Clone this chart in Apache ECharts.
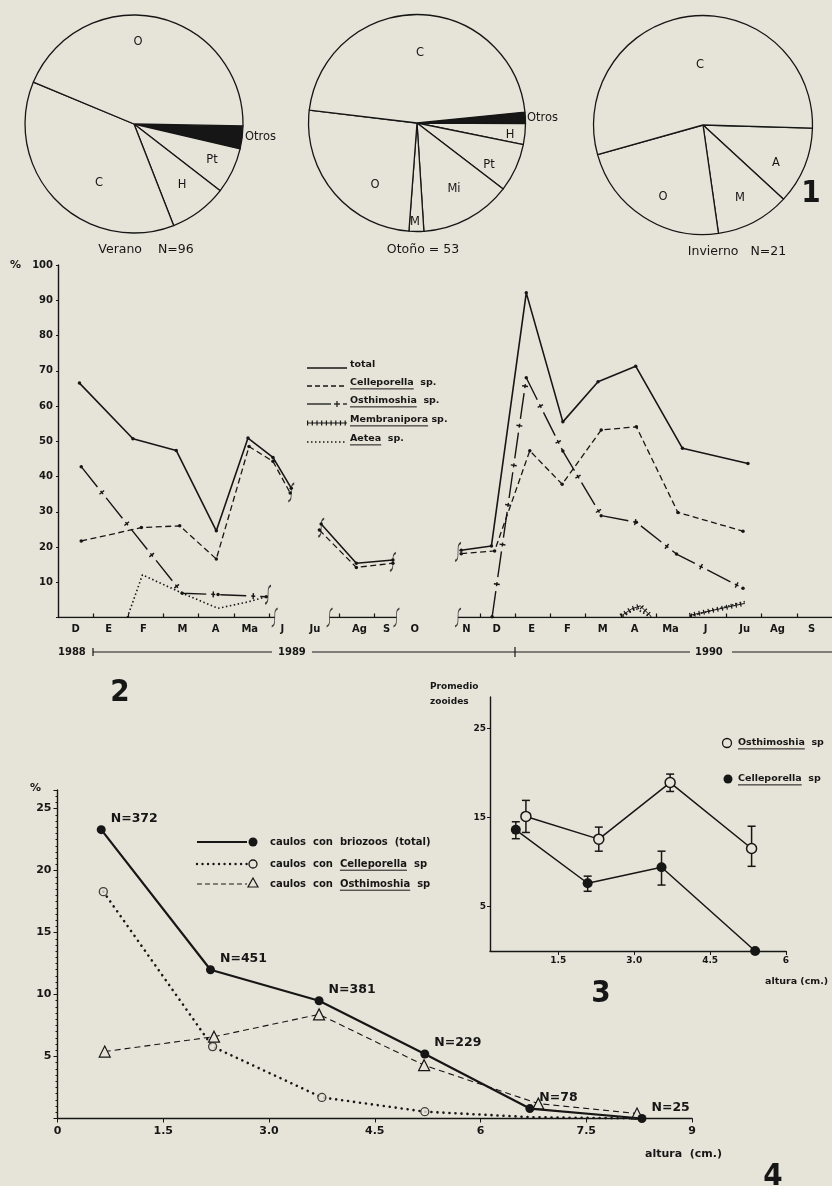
<!DOCTYPE html>
<html>
<head>
<meta charset="utf-8">
<script src="https://cdn.jsdelivr.net/npm/echarts@6.0.0/dist/echarts.min.js"></script>
<style>
	html, body { margin: 0; padding: 0; background: #e6e4d8; }
	#chart { width: 832px; height: 1186px; }
</style>
</head>
<body>
<div id="chart"></div>
<script>
// figura 1: tortas por estacion
const veranoNames = ['Otros', 'Pt', 'H', 'C', 'O'];
const veranoValues = [3.4, 6.8, 8.6, 37.2, 44.0];
const otonoNames = ['Otros', 'H', 'Pt', 'Mi', 'M', 'O', 'C'];
const otonoValues = [1.7, 3.1, 7.2, 13.6, 2.2, 25.7, 46.5];
const inviernoNames = ['A', 'M', 'O', 'C'];
const inviernoValues = [11.4, 10.9, 22.9, 54.8];

// figura 2: % por mes (indice de mes desde dic 1988)
const months = ['D', 'E', 'F', 'M', 'A', 'Ma', 'J', 'Ju', 'Ag', 'S', 'O', 'N', 'D', 'E', 'F', 'M', 'A', 'Ma', 'J', 'Ju', 'Ag', 'S'];
const monthPos = [0, 0.94, 1.93, 3.04, 3.98, 4.95, 5.88, 6.8, 8.07, 8.84, 9.64, 11.11, 11.97, 12.96, 13.98, 14.98, 15.89, 16.91, 17.91, 19.02, 19.95, 20.92];
const monthTicks = [0.5, 1.5, 2.5, 3.5, 4.5, 5.5, 7.5, 8.5, 11.5, 12.5, 13.5, 14.5, 15.5, 16.5, 17.5, 18.5, 19.5, 20.5];
const pctTicks = [0, 10, 20, 30, 40, 50, 60, 70, 80, 90, 100];

const totalX = [[0.11, 1.63, 2.86, 4.0, 4.9, 5.61, 6.13], [6.98, 7.98, 9.02], [10.96, 11.82, 12.81, 13.85, 14.85, 15.92, 17.25, 19.11]];
const totalY = [[66.5, 50.7, 47.4, 24.6, 50.9, 45.4, 36.7], [26.5, 15.4, 16.3], [19.1, 20.3, 92.1, 55.5, 66.9, 71.3, 48, 43.7]];
const cellX = [[0.16, 1.87, 2.96, 4.0, 4.93, 5.61, 6.1], [6.93, 7.98, 9.02], [10.96, 11.91, 12.91, 13.83, 14.94, 15.94, 17.12, 18.97]];
const cellY = [[21.7, 25.5, 26, 16.6, 48.5, 44.3, 35.3], [24.8, 14.2, 15.4], [18.1, 18.9, 47.3, 37.8, 53.2, 54.1, 29.8, 24.5]];
const osthX = [[0.16, 3.03, 4.05, 5.42], [11.84, 12.81, 13.85, 14.94, 15.94, 17.08, 18.97]];
const osthY = [[42.8, 6.9, 6.5, 5.9], [0.2, 68, 47.2, 28.9, 27, 18, 8.3]];
const membX = [[15.5, 15.8, 16.05, 16.36], [17.45, 19.02]];
const membY = [[0.4, 2.4, 3.3, 0.3], [0.6, 4.0]];
const aeteaX = [[1.47, 1.9, 3.03, 4.05, 4.93, 5.42], [15.55, 15.92, 16.36], [17.45, 19.02]];
const aeteaY = [[0, 12.1, 6.9, 2.6, 4.5, 5.9], [0.3, 2.6, 0], [0.3, 4.5]];
const axisSegX = [[-0.5, 5.66], [7.22, 9.12], [10.87, 21.5]];
const breakX = [6.13, 5.47, 5.66, 6.98, 9.02, 7.22, 9.12, 10.87, 10.87];
const breakY = [35.5, 6.5, 0, 25.5, 15.8, 0, 0, 18.6, 0];

// figura 3: promedio de zooides por altura
const osth3X = [0.86, 2.30, 3.71, 5.32];
const osth3Y = [15.1, 12.55, 18.9, 11.5];
const osth3Lo = [13.3, 11.2, 17.9, 9.5];
const osth3Hi = [16.9, 13.9, 19.85, 14.0];
const cell3X = [0.66, 2.08, 3.54, 5.39];
const cell3Y = [13.6, 7.6, 9.4, 0];
const cell3Lo = [12.6, 6.7, 7.4, null];
const cell3Hi = [14.5, 8.4, 11.2, null];
const altTicks3 = [1.5, 3, 4.5, 6];
const zooTicks3 = [5, 15, 25];

// figura 4: % de caulos por altura
const total4X = [0.62, 2.17, 3.71, 5.21, 6.70, 8.29];
const total4Y = [23.3, 12.0, 9.5, 5.2, 0.8, 0];
const nLabels = ['N=372', 'N=451', 'N=381', 'N=229', 'N=78', 'N=25'];
const cell4X = [0.65, 2.20, 3.75, 5.21, 6.74, 8.29];
const cell4Y = [18.3, 5.8, 1.7, 0.55, 0.1, 0];
const cell4Marked = 4;
const osth4X = [0.67, 2.22, 3.71, 5.2, 6.82, 8.22];
const osth4Y = [5.4, 6.6, 8.4, 4.3, 1.2, 0.4];

const BG = '#e6e4d8';
const INK = '#161616';
const FONT = '"DejaVu Sans", "Noto Sans", sans-serif';
const NARROW = '"Liberation Sans Narrow", "DejaVu Sans Condensed", sans-serif';

const ctx = document.createElement('canvas').getContext('2d');
function textWidth(text, font) {
	ctx.font = font;
	return ctx.measureText(text).width;
}
function pairs(xs, ys) {
	return xs.map((x, i) => [x, ys[i]]);
}
function label(x, y, text, size, opts) {
	opts = opts || {};
	return {
		type: 'text', x: x, y: y, z: 20,
		style: {
			text: text,
			font: (opts.weight || 'normal') + ' ' + size + 'px ' + (opts.family || FONT),
			fill: INK,
			align: opts.align || 'left',
			verticalAlign: 'middle'
		}
	};
}
// texto con el genero subrayado
function genusLabel(x, y, prefix, genus, suffix, size) {
	const font = 'bold ' + size + 'px ' + FONT;
	const x1 = x + textWidth(prefix, font);
	const x2 = x1 + textWidth(genus, font);
	const uy = y + size * 0.62;
	return [
		label(x, y, prefix + genus + suffix, size, { weight: 'bold' }),
		{ type: 'line', z: 20, shape: { x1: x1, y1: uy, x2: x2, y2: uy }, style: { stroke: INK, lineWidth: 1 } }
	];
}
function hline(x1, x2, y, style) {
	return { type: 'line', z: 20, shape: { x1: x1, y1: y, x2: x2, y2: y }, style: Object.assign({ stroke: INK, lineWidth: 1.3 }, style || {}) };
}
function vline(x, y1, y2, w) {
	return { type: 'line', z: 20, shape: { x1: x, y1: y1, x2: x, y2: y2 }, style: { stroke: INK, lineWidth: w || 1.2 } };
}

function pie(names, values, center, radius, startAngle) {
	return {
		type: 'pie',
		center: center,
		radius: radius,
		startAngle: startAngle,
		clockwise: true,
		silent: true,
		label: { show: false },
		labelLine: { show: false },
		itemStyle: { color: BG, borderColor: INK, borderWidth: 1.3 },
		data: names.map((n, i) => ({
			name: n,
			value: values[i],
			itemStyle: n === 'Otros' ? { color: INK } : undefined
		}))
	};
}

function fig2Lines(xsList, ysList, lineStyle, extra) {
	return xsList.map((xs, k) => Object.assign({
		type: 'line',
		xAxisIndex: 0,
		yAxisIndex: 0,
		data: pairs(xs, ysList[k]),
		symbol: 'circle',
		symbolSize: 3.5,
		itemStyle: { color: INK },
		lineStyle: Object.assign({ color: INK }, lineStyle),
		silent: true
	}, extra || {}));
}

const errorBars = () => ({
	type: 'custom',
	xAxisIndex: 1,
	yAxisIndex: 1,
	silent: true,
	z: 4,
	renderItem: (params, api) => {
		const x = api.value(0);
		const top = api.coord([x, api.value(2)]);
		const bot = api.coord([x, api.value(1)]);
		const w = 4;
		const st = { stroke: INK, lineWidth: 1.5 };
		return {
			type: 'group',
			children: [
				{ type: 'line', shape: { x1: top[0], y1: top[1], x2: bot[0], y2: bot[1] }, style: st },
				{ type: 'line', shape: { x1: top[0] - w, y1: top[1], x2: top[0] + w, y2: top[1] }, style: st },
				{ type: 'line', shape: { x1: bot[0] - w, y1: bot[1], x2: bot[0] + w, y2: bot[1] }, style: st }
			]
		};
	}
});

const axisFont = { color: INK, fontFamily: FONT, fontWeight: 'bold' };

const series = [
	pie(veranoNames, veranoValues, [134, 124], 109, -1),
	pie(otonoNames, otonoValues, [417, 123], 108.5, 5.8),
	pie(inviernoNames, inviernoValues, [703, 125], 109.5, -1.6)
];

// eje x cortado de la figura 2
axisSegX.forEach(seg => {
	series.push({
		type: 'line', xAxisIndex: 0, yAxisIndex: 0, silent: true, symbol: 'none',
		data: [[seg[0], 0], [seg[1], 0]],
		lineStyle: { color: INK, width: 1.4 }
	});
});
series.push(...fig2Lines(totalX, totalY, { width: 1.6 }, { z: 5 }));
series.push(...fig2Lines(cellX, cellY, { width: 1.3, type: [6, 3.5] }));
series.push(...fig2Lines(osthX, osthY, { width: 1.4, type: [26, 5, 4, 5] }));
series.push(...fig2Lines(osthX, osthY, { width: 6, type: [1.4, 38.6], dashOffset: 7.7 }, { symbol: 'none' }));
series.push(...fig2Lines(membX, membY, { width: 1 }, { symbol: 'none' }));
series.push(...fig2Lines(membX, membY, { width: 5, type: [1.2, 3.5] }, { symbol: 'none' }));
series.push(...fig2Lines(aeteaX, aeteaY, { width: 1.6, type: [1.5, 2.5] }, { symbol: 'none' }));
series.push({
	type: 'scatter', xAxisIndex: 0, yAxisIndex: 0, silent: true,
	data: pairs(breakX, breakY),
	symbol: 'path://M8,0 C4,1 4,4 4,10 C4,16 4,19 0,20',
	symbolSize: [6, 18],
	itemStyle: { color: 'rgba(0,0,0,0)', borderColor: INK, borderWidth: 1.3 },
	z: 6
});

// figura 3
series.push({
	type: 'line', xAxisIndex: 1, yAxisIndex: 1, silent: true, z: 5,
	data: pairs(osth3X, osth3Y),
	symbol: 'circle', symbolSize: 10,
	itemStyle: { color: BG, borderColor: INK, borderWidth: 1.5 },
	lineStyle: { color: INK, width: 1.5 }
});
series.push({
	type: 'line', xAxisIndex: 1, yAxisIndex: 1, silent: true, z: 5,
	data: pairs(cell3X, cell3Y),
	symbol: 'circle', symbolSize: 10,
	itemStyle: { color: INK },
	lineStyle: { color: INK, width: 1.5 }
});
series.push(Object.assign(errorBars(), {
	data: osth3X.map((x, i) => [x, osth3Lo[i], osth3Hi[i]]),
	encode: { x: 0, y: [1, 2] }
}));
series.push(Object.assign(errorBars(), {
	data: cell3X.map((x, i) => [x, cell3Lo[i], cell3Hi[i]]).filter(d => d[1] !== null),
	encode: { x: 0, y: [1, 2] }
}));

// figura 4
series.push({
	type: 'line', xAxisIndex: 2, yAxisIndex: 2, silent: true, z: 3,
	data: pairs(osth4X, osth4Y),
	symbol: 'triangle', symbolSize: 11,
	itemStyle: { color: BG, borderColor: INK, borderWidth: 1.2 },
	lineStyle: { color: INK, width: 1.1, type: [6, 4] }
});
series.push({
	type: 'line', xAxisIndex: 2, yAxisIndex: 2, silent: true, z: 3,
	data: pairs(cell4X, cell4Y),
	symbol: 'none',
	lineStyle: { color: INK, width: 2.6, type: [0.01, 6], cap: 'round' }
});
series.push({
	type: 'scatter', xAxisIndex: 2, yAxisIndex: 2, silent: true, z: 4,
	data: pairs(cell4X.slice(0, cell4Marked), cell4Y.slice(0, cell4Marked)),
	symbol: 'circle', symbolSize: 8,
	itemStyle: { color: BG, borderColor: INK, borderWidth: 1.3 }
});
series.push({
	type: 'line', xAxisIndex: 2, yAxisIndex: 2, silent: true, z: 5,
	data: pairs(total4X, total4Y),
	symbol: 'circle', symbolSize: 9,
	itemStyle: { color: INK },
	lineStyle: { color: INK, width: 2.2 },
	label: {
		show: true,
		position: 'right',
		distance: 3,
		offset: [2, -11],
		formatter: p => nLabels[p.dataIndex],
		color: INK,
		fontFamily: FONT,
		fontWeight: 'bold',
		fontSize: 12.5
	}
});

// textos sueltos, leyendas y marcas
const graphic = [];
[
	[138, 42, 'O'], [99, 183, 'C'], [182, 185, 'H'], [212, 160, 'Pt'],
	[420, 53, 'C'], [375, 185, 'O'], [415, 222, 'M'], [454, 189, 'Mi'], [489, 165, 'Pt'], [510, 135, 'H'],
	[700, 65, 'C'], [776, 163, 'A'], [740, 198, 'M'], [663, 197, 'O']
].forEach(t => graphic.push(label(t[0], t[1], t[2], 11.5, { align: 'center' })));
graphic.push(label(245, 137, 'Otros', 11.5));
graphic.push(label(527, 118, 'Otros', 11.5));
graphic.push(label(146, 250, 'Verano    N=96', 12.5, { align: 'center' }));
graphic.push(label(423, 250, 'Otoño = 53', 12.5, { align: 'center' }));
graphic.push(label(737, 252, 'Invierno   N=21', 12.5, { align: 'center' }));

[[811, 194, '1'], [120, 693, '2'], [601, 994, '3'], [773, 1177, '4']].forEach(t => {
	graphic.push(label(t[0], t[1], t[2], 31, { align: 'center', weight: 'bold', family: NARROW }));
});

// leyenda figura 2
const rows2 = [365, 383, 401, 420, 439];
graphic.push(hline(307, 347, rows2[0] + 3));
graphic.push(label(350, rows2[0], 'total', 9.5, { weight: 'bold' }));
graphic.push(hline(307, 347, rows2[1] + 3, { lineDash: [5, 3] }));
graphic.push(...genusLabel(350, rows2[1], '', 'Celleporella', '  sp.', 9.5));
graphic.push(hline(307, 331, rows2[2] + 3));
graphic.push(hline(334, 340, rows2[2] + 3));
graphic.push(vline(337, rows2[2] + 0, rows2[2] + 6));
graphic.push(hline(343, 347, rows2[2] + 3));
graphic.push(...genusLabel(350, rows2[2], '', 'Osthimoshia', '  sp.', 9.5));
graphic.push(hline(307, 347, rows2[3] + 3, { lineWidth: 1 }));
graphic.push(hline(307, 347, rows2[3] + 3, { lineWidth: 5, lineDash: [1.2, 3.5] }));
graphic.push(...genusLabel(350, rows2[3], '', 'Membranipora', ' sp.', 9.5));
graphic.push(hline(307, 347, rows2[4] + 3, { lineWidth: 1.6, lineDash: [1.5, 2.5] }));
graphic.push(...genusLabel(350, rows2[4], '', 'Aetea', '  sp.', 9.5));
graphic.push(label(10, 265, '%', 11, { weight: 'bold' }));

// linea de anos
graphic.push(label(58, 652, '1988', 10, { weight: 'bold' }));
graphic.push(hline(93, 272, 652, { lineWidth: 1.2 }));
graphic.push(vline(93, 648, 656));
graphic.push(label(278, 652, '1989', 10, { weight: 'bold' }));
graphic.push(hline(312, 690, 652, { lineWidth: 1.2 }));
graphic.push(vline(515, 647, 657));
graphic.push(label(695, 652, '1990', 10, { weight: 'bold' }));
graphic.push(hline(732, 832, 652, { lineWidth: 1.2 }));

// figura 3
graphic.push(label(430, 687, 'Promedio', 9, { weight: 'bold' }));
graphic.push(label(430, 702, 'zooides', 9, { weight: 'bold' }));
graphic.push({ type: 'circle', z: 20, shape: { cx: 727, cy: 743, r: 4.5 }, style: { fill: BG, stroke: INK, lineWidth: 1.3 } });
graphic.push(...genusLabel(738, 743, '', 'Osthimoshia', '  sp', 9.5));
graphic.push({ type: 'circle', z: 20, shape: { cx: 728, cy: 779, r: 4.5 }, style: { fill: INK } });
graphic.push(...genusLabel(738, 779, '', 'Celleporella', '  sp', 9.5));
graphic.push(label(765, 982, 'altura (cm.)', 9.5, { weight: 'bold' }));

// figura 4
const rows4 = [842, 864, 884];
graphic.push(hline(197, 247, rows4[0], { lineWidth: 2 }));
graphic.push({ type: 'circle', z: 20, shape: { cx: 253, cy: rows4[0], r: 4.5 }, style: { fill: INK } });
graphic.push(label(270, rows4[0], 'caulos  con  briozoos  (total)', 10, { weight: 'bold' }));
graphic.push(hline(197, 247, rows4[1], { lineWidth: 2.4, lineDash: [0.01, 5.5], lineCap: 'round' }));
graphic.push({ type: 'circle', z: 20, shape: { cx: 253, cy: rows4[1], r: 4 }, style: { fill: BG, stroke: INK, lineWidth: 1.3 } });
graphic.push(...genusLabel(270, rows4[1], 'caulos  con  ', 'Celleporella', '  sp', 10));
graphic.push(hline(197, 247, rows4[2], { lineWidth: 1.1, lineDash: [5, 3] }));
graphic.push({ type: 'polygon', z: 20, shape: { points: [[253, rows4[2] - 6], [258, rows4[2] + 3], [248, rows4[2] + 3]] }, style: { fill: BG, stroke: INK, lineWidth: 1.2 } });
graphic.push(...genusLabel(270, rows4[2], 'caulos  con  ', 'Osthimoshia', '  sp', 10));
graphic.push(label(30, 788, '%', 11, { weight: 'bold' }));
graphic.push(label(645, 1154, 'altura  (cm.)', 11, { weight: 'bold' }));

const chart = echarts.init(document.getElementById('chart'), null, { renderer: 'canvas' });
chart.setOption({
	backgroundColor: BG,
	animation: false,
	grid: [
		{ left: 58, top: 265, width: 774, height: 352.5 },
		{ left: 490, top: 697, width: 296, height: 254 },
		{ left: 57.5, top: 790, width: 634.5, height: 328.5 }
	],
	xAxis: [
		{
			gridIndex: 0, type: 'value', min: -0.5, max: 21.5,
			axisLine: { show: false, onZero: false },
			splitLine: { show: false },
			axisTick: { show: true, inside: true, length: 4, customValues: monthTicks, lineStyle: { color: INK, width: 1.2 } },
			axisLabel: Object.assign({
				customValues: monthPos,
				fontSize: 10,
				margin: 7,
				formatter: v => {
					const i = monthPos.findIndex(p => Math.abs(p - v) < 1e-6);
					return i < 0 ? '' : months[i];
				}
			}, axisFont)
		},
		{
			gridIndex: 1, type: 'value', min: 0.15, max: 6,
			axisLine: { show: true, onZero: false, lineStyle: { color: INK, width: 1.4 } },
			splitLine: { show: false },
			axisTick: { show: true, length: 4, customValues: altTicks3, lineStyle: { color: INK } },
			axisLabel: Object.assign({ customValues: altTicks3, fontSize: 9, margin: 5, formatter: v => (v === 6 ? '6' : v.toFixed(1)) }, axisFont)
		},
		{
			gridIndex: 2, type: 'value', min: 0, max: 9, interval: 1.5,
			axisLine: { show: true, onZero: false, lineStyle: { color: INK, width: 1.4 } },
			splitLine: { show: false },
			axisTick: { show: true, length: 4, lineStyle: { color: INK } },
			axisLabel: Object.assign({ fontSize: 11, margin: 7, formatter: v => (v === 3 ? '3.0' : String(v)) }, axisFont)
		}
	],
	yAxis: [
		{
			gridIndex: 0, type: 'value', min: 0, max: 100, interval: 10,
			axisLine: { show: true, onZero: false, lineStyle: { color: INK, width: 1.4 } },
			splitLine: { show: false },
			axisTick: { show: true, length: 2, customValues: pctTicks, lineStyle: { color: INK } },
			axisLabel: Object.assign({ fontSize: 10, margin: 5, formatter: v => (v === 0 ? '' : String(v)) }, axisFont)
		},
		{
			gridIndex: 1, type: 'value', min: 0, max: 28.5,
			axisLine: { show: true, onZero: false, lineStyle: { color: INK, width: 1.4 } },
			splitLine: { show: false },
			axisTick: { show: true, length: 3, customValues: zooTicks3, lineStyle: { color: INK } },
			axisLabel: Object.assign({ customValues: zooTicks3, fontSize: 9, margin: 4 }, axisFont)
		},
		{
			gridIndex: 2, type: 'value', min: 0, max: 26.5, interval: 5,
			axisLine: { show: true, onZero: false, lineStyle: { color: INK, width: 1.4 } },
			splitLine: { show: false },
			axisTick: { show: true, length: 4, lineStyle: { color: INK } },
			minorTick: { show: true, splitNumber: 10, length: 2, lineStyle: { color: INK } },
			axisLabel: Object.assign({ fontSize: 11, margin: 6, showMaxLabel: false, formatter: v => (v === 0 || v % 5 !== 0 ? '' : String(v)) }, axisFont)
		}
	],
	series: series,
	graphic: graphic
});
</script>
</body>
</html>
